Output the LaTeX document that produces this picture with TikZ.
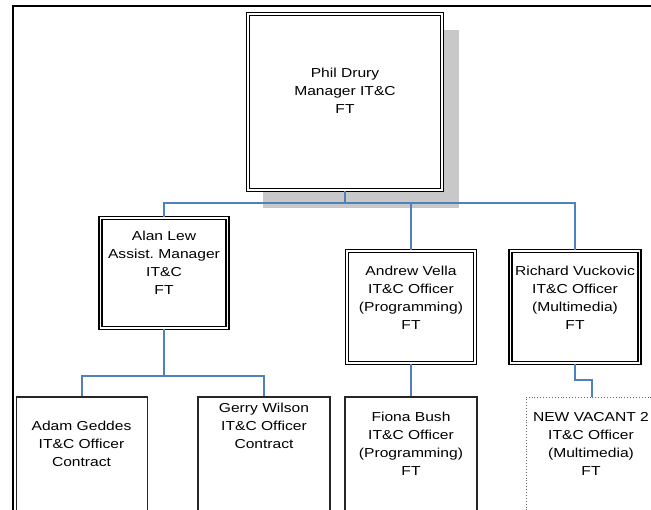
\documentclass[tikz,border=0pt]{standalone}
\usepackage{fontspec}
\usepackage{xcolor}
\usepackage{tikz}
\usetikzlibrary{backgrounds}
\newfontfamily\chartfont{Liberation Sans}[FakeStretch=1.2]
\definecolor{linkblue}{RGB}{79,129,189}
\definecolor{shadowgray}{RGB}{200,200,200}
\tikzset{
    % Boxes
    headbox/.style={draw, fill=white, double, double distance=1.4pt, line width=1.4pt, inner sep=0pt},
    staffbox/.style={draw=black!85, line width=1.2pt, inner sep=0pt},
    vacantbox/.style={draw=black!60, dotted, line width=0.9pt, inner sep=0pt},
    % Text and connectors
    boxtext/.style={font=\chartfont\fontsize{13}{18}\selectfont, align=center, inner sep=0pt},
    link/.style={draw=linkblue, line width=1.5pt}
}

\begin{document}
\begin{tikzpicture}[x=1pt, y=-1pt]
    \useasboundingbox (0,0) rectangle (651,510);
    \clip (0,0) rectangle (651,510);

    % Page frame
    \draw[line width=2pt] (13,510) -- (13,6) -- (651,6);

    % Manager
    \node[headbox, minimum width=194pt, minimum height=176pt] (phil) at (345,102) {};
    \begin{scope}[on background layer]
        \fill[shadowgray] ([shift={(16,17)}]phil.north west) rectangle ([shift={(16,17)}]phil.south east);
    \end{scope}
    \node[boxtext] (philtxt) at (345,91) {Phil Drury\\Manager IT\&C\\FT};

    % Second level
    \node[headbox, minimum width=127pt, minimum height=110pt] (alan) at (164,273) {};
    \node[boxtext] (alantxt) at (164,263) {Alan Lew\\Assist.\ Manager\\IT\&C\\FT};

    \node[headbox, minimum width=128pt, minimum height=112pt] (andrew) at (411,307) {};
    \node[boxtext] (andrewtxt) at (411,297.5) {Andrew Vella\\IT\&C Officer\\(Programming)\\FT};

    \node[headbox, minimum width=129pt, minimum height=112pt] (richard) at (575,307) {};
    \node[boxtext] (richardtxt) at (575,297.5) {Richard Vuckovic\\IT\&C Officer\\(Multimedia)\\FT};

    % Third level
    \node[staffbox, minimum width=131pt, minimum height=160pt] (adam) at (82,477) {};
    \node[boxtext] (adamtxt) at (81.5,444) {Adam Geddes\\IT\&C Officer\\Contract};

    \node[staffbox, minimum width=132pt, minimum height=160pt] (gerry) at (264,477) {};
    \node[boxtext] (gerrytxt) at (264,426) {Gerry Wilson\\IT\&C Officer\\Contract};

    \node[staffbox, minimum width=132pt, minimum height=160pt] (fiona) at (411,477) {};
    \node[boxtext] (fionatxt) at (411,444) {Fiona Bush\\IT\&C Officer\\(Programming)\\FT};

    \node[vacantbox, minimum width=132pt, minimum height=160pt] (vacant) at (592,477) {};
    \node[boxtext] (vacanttxt) at (591,444) {NEW VACANT 2\\IT\&C Officer\\(Multimedia)\\FT};

    % Connectors
    \coordinate (bus1) at (345,203);
    \draw[link] (phil.south) -- (bus1);
    \draw[link] (alan.north) |- (bus1) -| (richard.north);
    \draw[link] (bus1 -| andrew.north) -- (andrew.north);

    \coordinate (bus2) at (164,376);
    \draw[link] (alan.south) -- (bus2);
    \draw[link] (adam.north) |- (bus2) -| (gerry.north);

    \draw[link] (andrew.south) -- (fiona.north);

    \coordinate (bend) at (575,380);
    \draw[link] (richard.south) -- (bend) -| (vacant.north);
\end{tikzpicture}
\end{document}
